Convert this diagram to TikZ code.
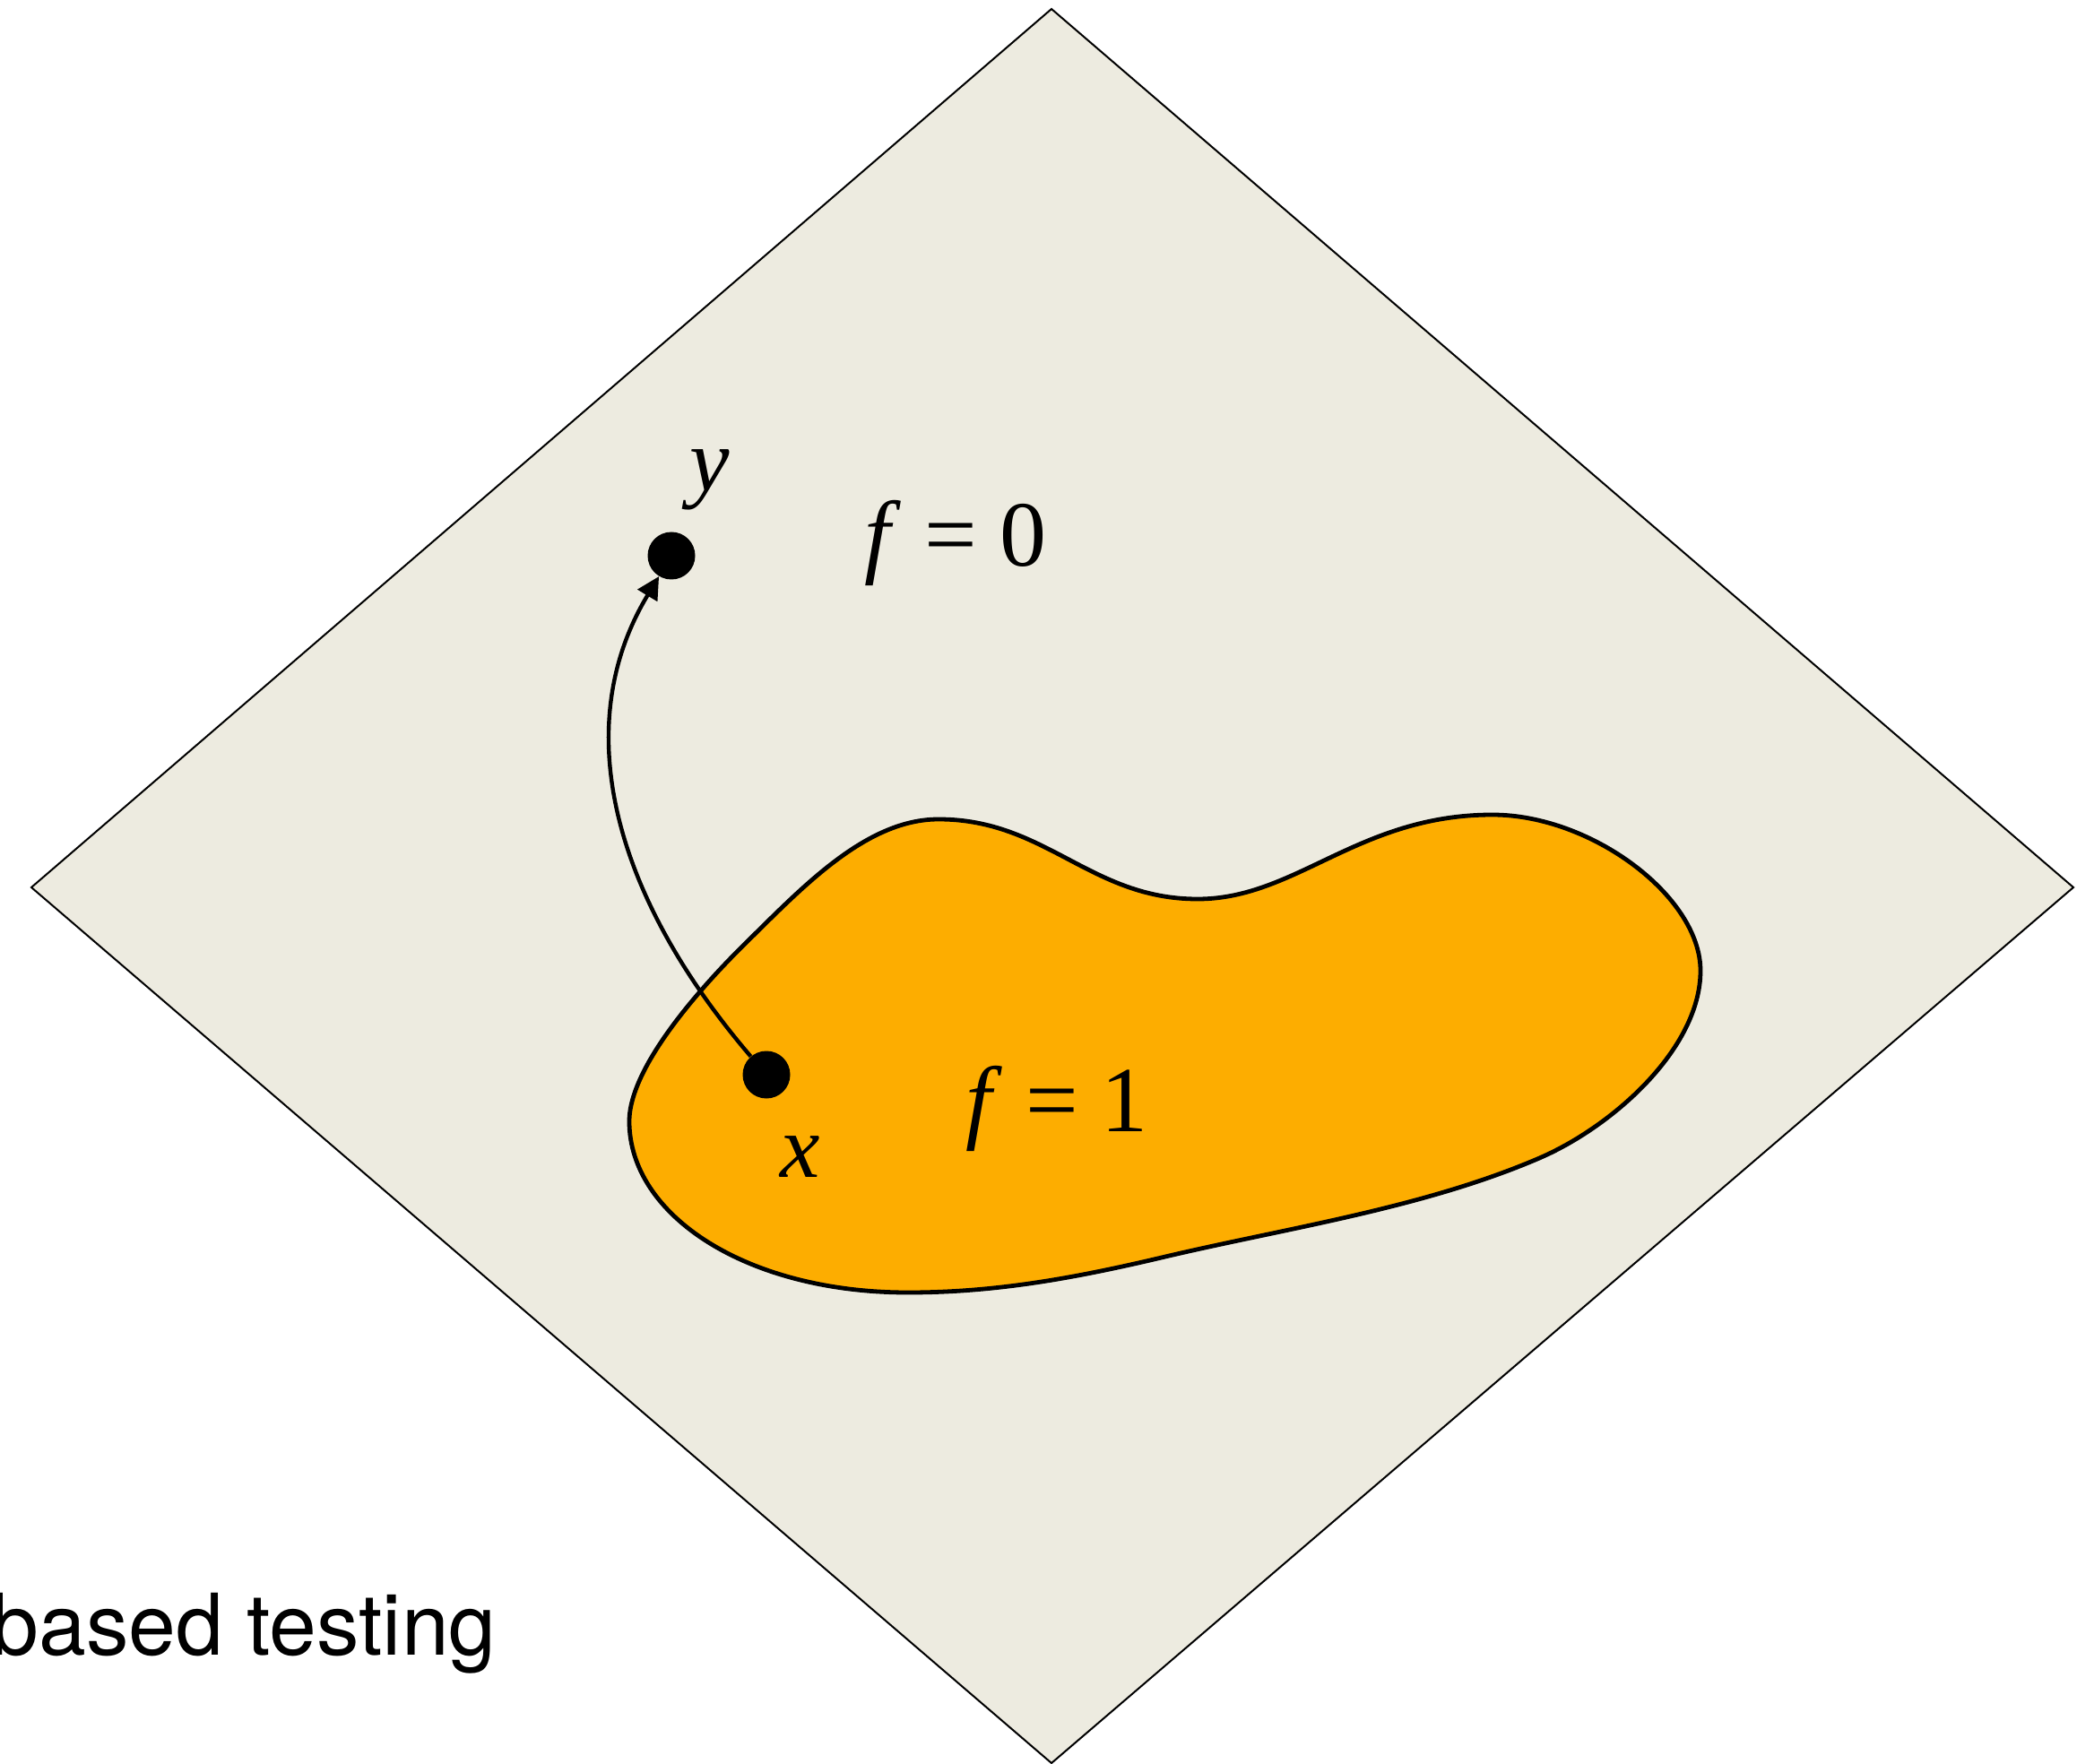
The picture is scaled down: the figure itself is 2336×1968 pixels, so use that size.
\documentclass[tikz,border=0pt]{standalone}
\usepackage{fontspec}
\setmainfont{Liberation Serif}
\newfontfamily\helv{TeX Gyre Heros}
\usetikzlibrary{arrows.meta}
\definecolor{plane}{RGB}{237,235,224}
\definecolor{blobc}{RGB}{253,173,0}
\begin{document}
\begin{tikzpicture}[x=0.5pt,y=-0.5pt,
  dotnode/.style={circle,fill=black,inner sep=0pt,minimum size=26.5pt},
  varlbl/.style={inner sep=0pt,anchor=base,font=\fontsize{50}{60}\selectfont\itshape},
  eqlbl/.style={inner sep=0pt,anchor=base,font=\fontsize{52}{62}\selectfont},
  caption/.style={inner sep=0pt,anchor=base west,font=\helv\fontsize{47.5}{57}\selectfont}]
\useasboundingbox (0,0) rectangle (2336,1968);
\coordinate (T) at (1173,10);
\coordinate (R) at (2313,990);
\coordinate (B) at (1173,1967);
\coordinate (L) at (35,990);
\filldraw[fill=plane,line width=1pt] (T) -- (R) -- (B) -- (L) -- cycle;
\filldraw[fill=blobc,line width=2.4pt]
  (702,1251) .. controls (702,1190) and (783,1100) .. (833,1051)
  .. controls (897,988) and (967,914) .. (1047,914)
  .. controls (1167,914) and (1216,1003) .. (1336,1003)
  .. controls (1446,1003) and (1515,909) .. (1665,909)
  .. controls (1775,909) and (1897,1000) .. (1897,1083)
  .. controls (1897,1170) and (1798,1258) .. (1715,1293)
  .. controls (1586,1348) and (1436,1370) .. (1300,1402)
  .. controls (1203,1425) and (1113,1442) .. (1013,1442)
  .. controls (833,1442) and (702,1356) .. (702,1251) -- cycle;
\node[dotnode] (yd) at (749,620) {};
\node[dotnode] (xd) at (855,1199) {};
\node[varlbl] (ylbl) at (792,548) {y};
\node[varlbl] (xlbl) at (893,1313) {x};
\node[eqlbl] (f0) at (1066,632) {\textit{f} = 0};
\node[eqlbl] (f1) at (1179,1262) {\textit{f} = 1};
\node[caption] (cap) at (-10,1846) {based testing};
\draw[line width=2.2pt,-{Triangle[length=12.5pt,width=12.5pt]}] (xd) .. controls (688,1004) and (632,814) .. (yd);
\end{tikzpicture}
\end{document}
